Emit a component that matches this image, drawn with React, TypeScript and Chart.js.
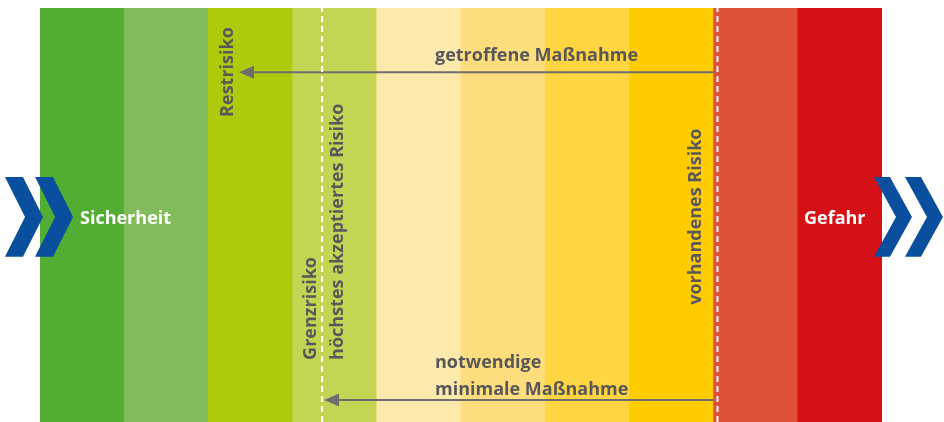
import { useEffect, useRef } from "react";
import { Chart, registerables } from "chart.js";

Chart.register(...registerables);

// ---- data ----
const bandLabels = ["Stufe 1", "Stufe 2", "Stufe 3", "Stufe 4", "Stufe 5", "Stufe 6", "Stufe 7", "Stufe 8", "Stufe 9", "Stufe 10"];
const bandHeights = [100, 100, 100, 100, 100, 100, 100, 100, 100, 100];
const bandColors = ["#52ae32", "#82bc5a", "#afca0b", "#c5d553", "#fee9ad", "#fedd7d", "#ffd641", "#fecc00", "#df5038", "#d51017"];

// risk thresholds (position along the band axis, 0..10)
const grenzrisikoPos = 3.35;
const vorhandenesRisikoPos = 8.046;
const restrisikoPos = 2.363;

// arrows: from existing risk back to target
const arrowFrom = [8.0, 8.0];
const arrowTo = [restrisikoPos, 3.373];
const arrowLevel = [84.5, 5.3];

// ---- layout / style config ----
const TEXT_COLOR = "#58585a";
const LINE_COLOR = "#6e6e6e";
const CHEVRON_COLOR = "#0a4f9d";
const FONT = "bold 18px 'Open Sans'";

const horizontalLabels = [
  { text: "getroffene Maßnahme", x: 4.691, y: 87.2, color: TEXT_COLOR },
  { text: "notwendige", x: 4.691, y: 13.0, color: TEXT_COLOR },
  { text: "minimale Maßnahme", x: 4.691, y: 6.5, color: TEXT_COLOR },
  { text: "Sicherheit", x: 0.475, y: 47.8, color: "#ffffff" },
  { text: "Gefahr", x: 9.074, y: 47.8, color: "#ffffff" },
];

const verticalLabels = [
  { text: "Restrisiko", x: 2.292, y: 73.7 },
  { text: "Grenzrisiko", x: 3.278, y: 15.0 },
  { text: "höchstes akzeptiertes Risiko", x: 3.599, y: 15.0 },
  { text: "vorhandenes Risiko", x: 7.856, y: 28.3 },
];

// chevrons: left x, thickness, depth (band units); y top/mid/bottom (value units)
const chevrons = [
  { x: -0.416, w: 0.214, d: 0.238 },
  { x: -0.059, w: 0.214, d: 0.238 },
  { x: 9.905, w: 0.19, d: 0.261 },
  { x: 10.273, w: 0.19, d: 0.261 },
];
const chevronTop = 59.2;
const chevronMid = 49.5;
const chevronBottom = 39.9;

const overlayPlugin = {
  id: "overlay",
  afterDatasetsDraw(chart: any) {
    const ctx: CanvasRenderingContext2D = chart.ctx;
    const xs = chart.scales.x2;
    const ys = chart.scales.y;
    const px = (v: number) => xs.getPixelForValue(v);
    const py = (v: number) => ys.getPixelForValue(v);
    ctx.save();

    // arrowheads
    ctx.fillStyle = LINE_COLOR;
    arrowTo.forEach((t, i) => {
      const tx = px(t);
      const ty = py(arrowLevel[i]);
      ctx.beginPath();
      ctx.moveTo(tx, ty);
      ctx.lineTo(tx + 15, ty - 6.5);
      ctx.lineTo(tx + 15, ty + 6.5);
      ctx.closePath();
      ctx.fill();
    });

    // chevrons
    ctx.fillStyle = CHEVRON_COLOR;
    chevrons.forEach((c) => {
      const yt = py(chevronTop), ym = py(chevronMid), yb = py(chevronBottom);
      ctx.beginPath();
      ctx.moveTo(px(c.x), yt);
      ctx.lineTo(px(c.x + c.w), yt);
      ctx.lineTo(px(c.x + c.w + c.d), ym);
      ctx.lineTo(px(c.x + c.w), yb);
      ctx.lineTo(px(c.x), yb);
      ctx.lineTo(px(c.x + c.d), ym);
      ctx.closePath();
      ctx.fill();
    });

    // texts
    ctx.font = FONT;
    ctx.textBaseline = "alphabetic";
    ctx.textAlign = "left";
    horizontalLabels.forEach((l) => {
      ctx.fillStyle = l.color;
      ctx.fillText(l.text, px(l.x), py(l.y));
    });
    ctx.fillStyle = TEXT_COLOR;
    verticalLabels.forEach((l) => {
      ctx.save();
      ctx.translate(px(l.x), py(l.y));
      ctx.rotate(-Math.PI / 2);
      ctx.fillText(l.text, 0, 0);
      ctx.restore();
    });
    ctx.restore();
  },
};

export default function App() {
  const ref = useRef<HTMLCanvasElement>(null);
  useEffect(() => {
    if (!ref.current) return;
    const lineDs = (pts: { x: number; y: number }[], color: string, dash: number[]) => ({
      type: "line" as const,
      data: pts,
      xAxisID: "x2",
      yAxisID: "y",
      borderColor: color,
      borderWidth: 2,
      borderDash: dash,
      pointRadius: 0,
      fill: false,
      tension: 0,
      order: 1,
    });
    const chart = new Chart(ref.current, {
      type: "bar",
      data: {
        labels: bandLabels,
        datasets: [
          {
            type: "bar",
            data: bandHeights,
            backgroundColor: bandColors,
            borderWidth: 0,
            barPercentage: 1,
            categoryPercentage: 1,
            grouped: false,
            xAxisID: "x",
            yAxisID: "y",
            order: 2,
          } as any,
          lineDs([{ x: grenzrisikoPos, y: 0 }, { x: grenzrisikoPos, y: 100 }], "#ffffff", [6, 4]),
          lineDs([{ x: vorhandenesRisikoPos, y: 0 }, { x: vorhandenesRisikoPos, y: 100 }], "#ffffff", [6, 4]),
          ...arrowFrom.map((f, i) =>
            lineDs([{ x: f, y: arrowLevel[i] }, { x: arrowTo[i] + 0.05, y: arrowLevel[i] }], LINE_COLOR, [])
          ),
        ],
      },
      options: {
        animation: false,
        responsive: true,
        maintainAspectRatio: false,
        layout: { padding: { left: 40, right: 62, top: 8, bottom: 0 } },
        plugins: { legend: { display: false }, tooltip: { enabled: false } },
        scales: {
          x: { display: false, offset: true, grid: { display: false } },
          x2: { type: "linear", display: false, offset: false, min: 0, max: 10, grid: { display: false } },
          y: { display: false, min: 0, max: 100 },
        },
      },
      plugins: [overlayPlugin],
    });
    return () => chart.destroy();
  }, []);
  return (
    <div style={{ position: "absolute", left: 0, top: 0, width: 944, height: 422 }}>
      <canvas ref={ref} />
    </div>
  );
}
